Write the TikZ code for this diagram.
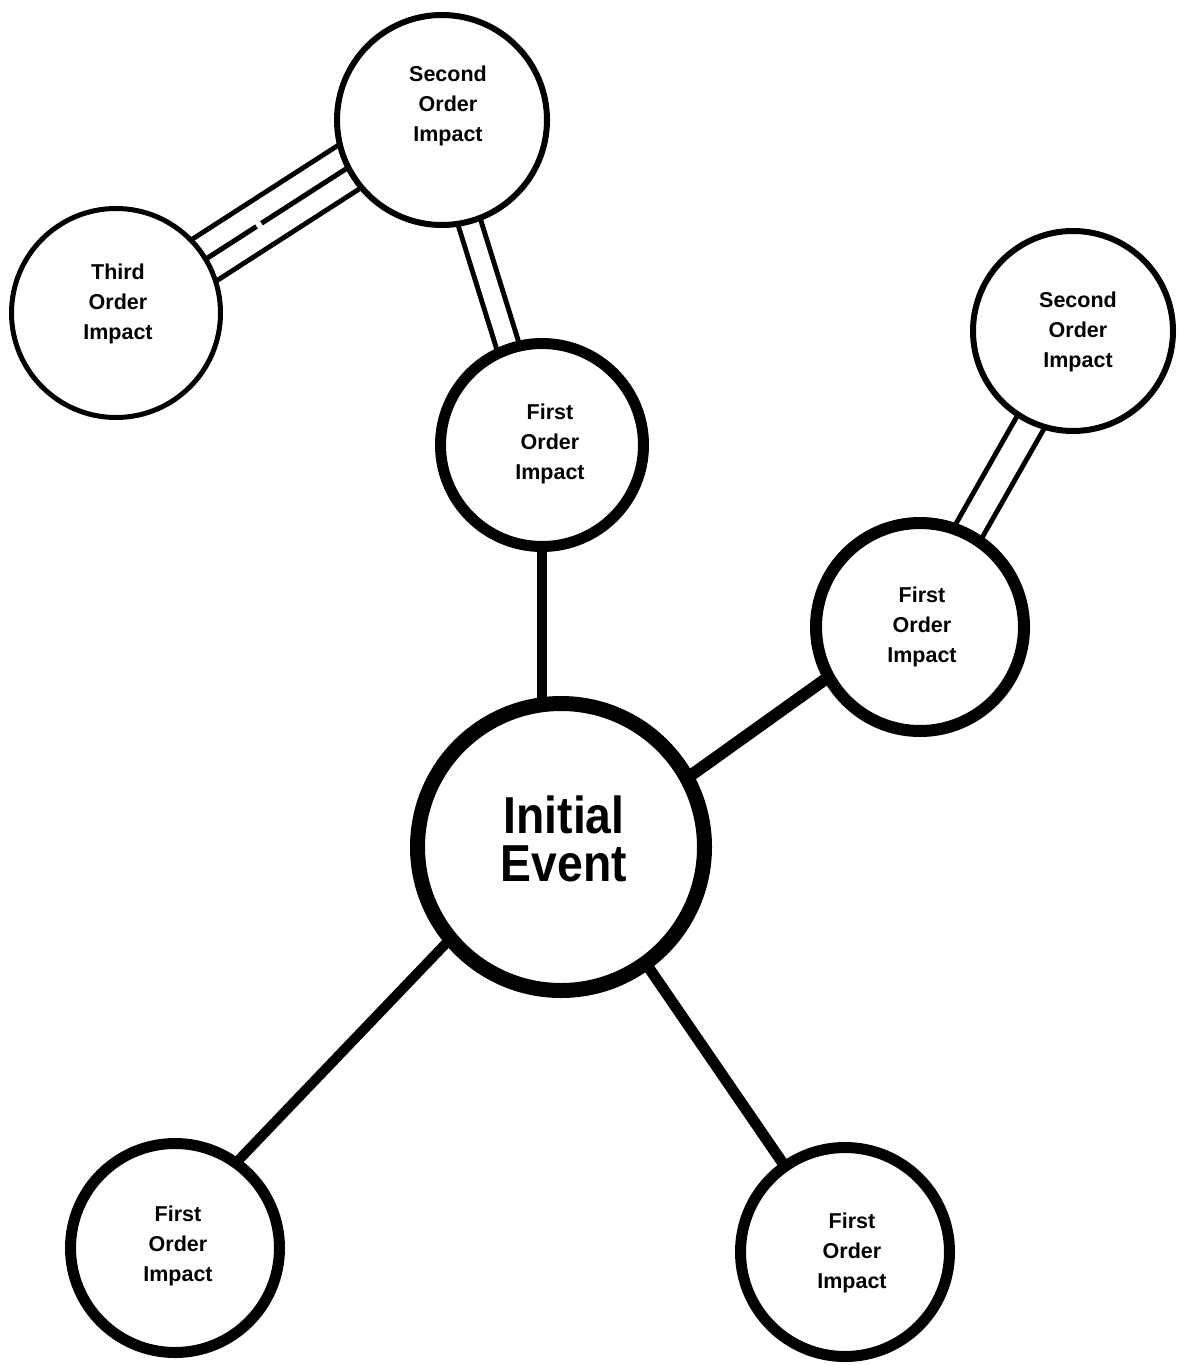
\documentclass[tikz,border=0pt]{standalone}
\usepackage{fontspec}
\setmainfont{Liberation Sans}
\newfontfamily\smallfnt{Liberation Sans}
\newfontfamily\bigfnt[FakeStretch=0.89]{Liberation Sans}
\usetikzlibrary{backgrounds}
\begin{document}
\begin{tikzpicture}[x=1pt,y=-1pt,
  ring/.style={circle,draw=black,fill=white,inner sep=0pt,line width=#1},
  lbl/.style={align=center,inner sep=0pt,font=\smallfnt\bfseries\fontsize{21.5}{30}\selectfont},
  biglbl/.style={align=center,inner sep=0pt,font=\bigfnt\bfseries\fontsize{52}{48}\selectfont},
  conn/.style={draw=black,line width=#1},
  ext/.style={shorten <=-30pt,shorten >=-30pt},
  dbl/.style={draw=black,line width=5pt,double=white,double distance=#1}]
\useasboundingbox (0,0) rectangle (1185,1365);
% circles
\node[ring=15pt, minimum size=287pt] (init) at (561,847) {};
\node[ring=11pt, minimum size=203pt] (top1) at (542,445) {};
\node[ring=6pt,  minimum size=210pt] (sec1) at (442,120) {};
\node[ring=5pt,  minimum size=209pt] (third) at (116,313) {};
\node[ring=6pt,  minimum size=200pt] (sec2) at (1073,331) {};
\node[ring=12pt, minimum size=208pt] (rf) at (920,627) {};
\node[ring=11pt, minimum size=209pt] (bl) at (175,1248) {};
\node[ring=11pt, minimum size=209pt] (br) at (845,1252) {};
% labels
\node[biglbl] (initt) at (564,839) {Initial\\Event};
\node[lbl] (top1t) at (550,444) {First\\Order\\Impact};
\node[lbl] (sec1t) at (448,106) {Second\\Order\\Impact};
\node[lbl] (thirdt) at (118,304) {Third\\Order\\Impact};
\node[lbl] (sec2t) at (1078,332) {Second\\Order\\Impact};
\node[lbl] (rft) at (922,627) {First\\Order\\Impact};
\node[lbl] (blt) at (178,1246) {First\\Order\\Impact};
\node[lbl] (brt) at (852,1253) {First\\Order\\Impact};
% connectors
\begin{pgfonlayer}{background}
\fill[white] (0,0) rectangle (1185,1365);
\draw[conn=10pt] (top1.south) -- (top1.south |- init.center);
\draw[conn=12pt, ext] (init.29.8) -- (rf.209.6);
\draw[conn=10pt, ext] (init.220.2) -- (bl.54.5);
\draw[conn=11pt, ext] (init.306.8) -- (br.125.2);
\draw[dbl=18pt, ext] (top1.109.9) -- (sec1.285.2);
\draw[dbl=24.5pt, ext] (rf.63.9) -- (sec2.245.7);
\draw[dbl=43pt, ext] (third.31) -- (sec1.207);
\draw[conn=5pt, ext, dash pattern=on 88pt off 6pt on 600pt] (third.31) -- (sec1.207);
\end{pgfonlayer}
\end{tikzpicture}
\end{document}
